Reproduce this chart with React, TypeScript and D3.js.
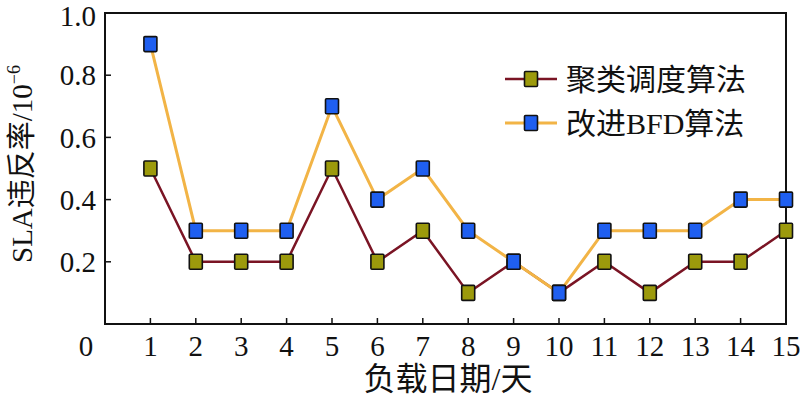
import React from 'react';
import * as d3 from 'd3';

const days = [1, 2, 3, 4, 5, 6, 7, 8, 9, 10, 11, 12, 13, 14, 15];
const clusterSla = [0.5, 0.2, 0.2, 0.2, 0.5, 0.2, 0.3, 0.1, 0.2, 0.1, 0.2, 0.1, 0.2, 0.2, 0.3];
const bfdSla = [0.9, 0.3, 0.3, 0.3, 0.7, 0.4, 0.5, 0.3, 0.2, 0.1, 0.3, 0.3, 0.3, 0.4, 0.4];
const yTicks = [0.2, 0.4, 0.6, 0.8, 1.0];
const seriesNames = ['聚类调度算法', '改进BFD算法'];

const W = 800;
const H = 396;
const font = '"Liberation Serif", "Times New Roman", "Noto Sans CJK SC", serif';

const series = [
  { name: seriesNames[0], values: clusterSla, line: '#7a1424', fill: '#9c9a0c', lw: 2.5 },
  { name: seriesNames[1], values: bfdSla, line: '#f2b446', fill: '#1f5ff0', lw: 3 },
];

const Marker = ({ cx, cy, fill }: { cx: number; cy: number; fill: string }) => (
  <rect x={cx - 6.5} y={cy - 7.5} width={13} height={15} rx={1} fill={fill} stroke="#111" strokeWidth={1.6} />
);

export default function App() {
  const x = d3.scaleLinear().domain([0, 15]).range([105, 786]);
  const y = d3.scaleLinear().domain([0, 1]).range([324, 13]);

  const line = d3
    .line<number>()
    .x((_, i) => x(days[i]))
    .y(d => y(d));

  return (
    <svg width={W} height={H} style={{ position: 'absolute', left: 0, top: 0, background: '#fff' }} fontFamily={font}>
      {/* frame */}
      <rect x={x(0)} y={y(1)} width={x(15) - x(0)} height={y(0) - y(1)} fill="none" stroke="#111" strokeWidth={2} />

      {/* y ticks */}
      {yTicks.map(t => (
        <g key={t}>
          <line x1={x(0)} x2={x(0) + 6} y1={y(t)} y2={y(t)} stroke="#111" strokeWidth={1.5} />
          <text x={x(0) - 9} y={Math.max(y(t), 16)} dy="0.35em" textAnchor="end" fontSize={29} fill="#111">
            {t.toFixed(1)}
          </text>
        </g>
      ))}

      {/* x ticks */}
      {days.map(d => (
        <g key={d}>
          <line x1={x(d)} x2={x(d)} y1={y(0)} y2={y(0) - 6} stroke="#111" strokeWidth={1.5} />
          <text x={x(d)} y={356} textAnchor="middle" fontSize={29} fill="#111">
            {d}
          </text>
        </g>
      ))}
      <text x={x(0) - 19} y={356} textAnchor="middle" fontSize={29} fill="#111">0</text>

      {/* axis titles */}
      <text x={448} y={390} textAnchor="middle" fontSize={32} fill="#111">负载日期/天</text>
      <text transform={`translate(32,164) rotate(-90)`} textAnchor="middle" fontSize={29} fill="#111">
        SLA违反率/10<tspan fontSize={18} dy={-12}>−6</tspan>
      </text>

      {/* series */}
      {series.map(s => (
        <g key={s.name}>
          <path d={line(s.values) || ''} fill="none" stroke={s.line} strokeWidth={s.lw} />
          {s.values.map((v, i) => (
            <Marker key={i} cx={x(days[i])} cy={y(v)} fill={s.fill} />
          ))}
        </g>
      ))}

      {/* legend */}
      {series.map((s, i) => {
        const ly = 79 + i * 44;
        return (
          <g key={s.name}>
            <line x1={505} x2={557} y1={ly} y2={ly} stroke={s.line} strokeWidth={s.lw} />
            <Marker cx={531} cy={ly} fill={s.fill} />
            <text x={566} y={ly} dy="0.36em" fontSize={30} fill="#111">{s.name}</text>
          </g>
        );
      })}
    </svg>
  );
}
